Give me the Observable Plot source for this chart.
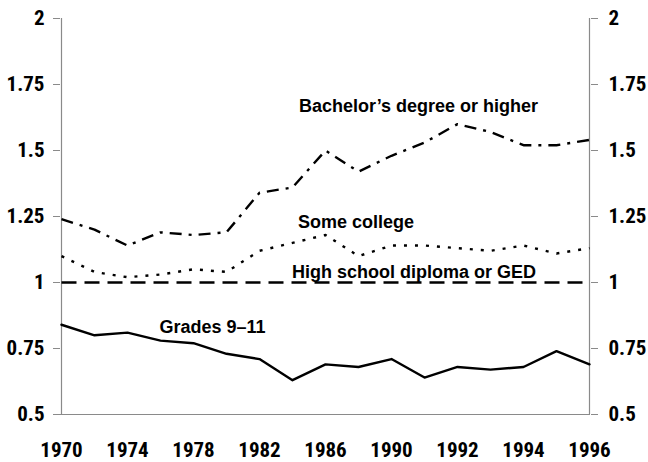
<!DOCTYPE html>
<html>
<head>
<meta charset="utf-8">
<script src="https://cdn.jsdelivr.net/npm/d3@7"></script>
<script src="https://cdn.jsdelivr.net/npm/@observablehq/plot@0.6"></script>
<style>
  html, body { margin: 0; padding: 0; background: #fff; }
  #chart { width: 648px; height: 462px; }
</style>
</head>
<body>
<div id="chart"></div>
<script>
const years = ["1970","1972","1974","1976","1978","1980","1982","1984","1986","1988","1990","1991","1992","1993","1994","1995","1996"];
const bachelors = [1.24,1.20,1.14,1.19,1.18,1.19,1.34,1.36,1.50,1.42,1.48,1.53,1.60,1.57,1.52,1.52,1.54];
const someCollege = [1.10,1.04,1.02,1.03,1.05,1.04,1.12,1.15,1.18,1.10,1.14,1.14,1.13,1.12,1.14,1.11,1.13];
const highSchool = [1,1,1,1,1,1,1,1,1,1,1,1,1,1,1,1,1];
const grades = [0.84,0.80,0.81,0.78,0.77,0.73,0.71,0.63,0.69,0.68,0.71,0.64,0.68,0.67,0.68,0.74,0.69];
const xTickLabels = ["1970","1974","1978","1982","1986","1990","1992","1994","1996"];
const yTicks = [0.5,0.75,1,1.25,1.5,1.75,2];
const seriesNames = ["Bachelor’s degree or higher","Some college","High school diploma or GED","Grades 9–11"];

const toRows = (vals) => years.map((y, i) => ({year: y, value: vals[i]}));
const tickFont = "'Roboto Condensed', 'Liberation Sans', Arial, sans-serif";
const labelFont = "'Liberation Sans', Arial, sans-serif";
const axisGray = "#8a8a8a";

const lineStyle = {x: "year", y: "value", stroke: "black", strokeWidth: 2.4, strokeLinejoin: "round"};
const labelStyle = {text: d => d, fontFamily: labelFont, fontSize: 18, fontWeight: "bold", fill: "black", textAnchor: "middle"};
const tickStyle = {fill: "black", label: null, fontSize: 21, fontWeight: "bold", fontFamily: tickFont};

const chart = Plot.plot({
  width: 648,
  height: 462,
  marginLeft: 60,
  marginRight: 58,
  marginTop: 18,
  marginBottom: 48,
  style: {fontFamily: tickFont, fontWeight: "bold", fontSize: "21px", color: "black", background: "white"},
  x: {type: "point", domain: years, padding: 0},
  y: {domain: [0.5, 2]},
  marks: [
    Plot.ruleX([years[0], years[years.length - 1]], {stroke: axisGray, strokeWidth: 1.2}),
    Plot.ruleY([0.5], {stroke: axisGray, strokeWidth: 1.2}),
    Plot.axisY({...tickStyle, anchor: "left", ticks: yTicks, tickFormat: d => String(d), tickSize: 7, tickPadding: 9, stroke: axisGray}),
    Plot.axisY({...tickStyle, anchor: "right", ticks: yTicks, tickFormat: d => String(d), tickSize: 7, tickPadding: 11, stroke: axisGray}),
    Plot.axisX({...tickStyle, anchor: "bottom", ticks: xTickLabels, tickSize: 0, tickPadding: 28}),
    Plot.line(toRows(highSchool), {...lineStyle, strokeDasharray: "15,8", strokeLinecap: "butt"}),
    Plot.line(toRows(someCollege), {...lineStyle, strokeDasharray: "3,8", strokeLinecap: "butt"}),
    Plot.line(toRows(bachelors), {...lineStyle, strokeDasharray: "12,7,3,7", strokeLinecap: "butt"}),
    Plot.line(toRows(grades), {...lineStyle}),
    Plot.text([seriesNames[0]], {...labelStyle, x: () => "1990", y: () => 1.667, dx: 27}),
    Plot.text([seriesNames[1]], {...labelStyle, x: () => "1988", y: () => 1.227, dx: -2.5}),
    Plot.text([seriesNames[2]], {...labelStyle, x: () => "1990", y: () => 1.038, dx: 22.5}),
    Plot.text([seriesNames[3]], {...labelStyle, x: () => "1980", y: () => 0.829, dx: -14})
  ]
});
d3.select(chart).selectAll("g[aria-label$='tick label'] text, g[aria-label$='tick label']")
  .style("font-weight", "bold").style("font-family", tickFont);
document.getElementById("chart").appendChild(chart);
</script>
</body>
</html>
